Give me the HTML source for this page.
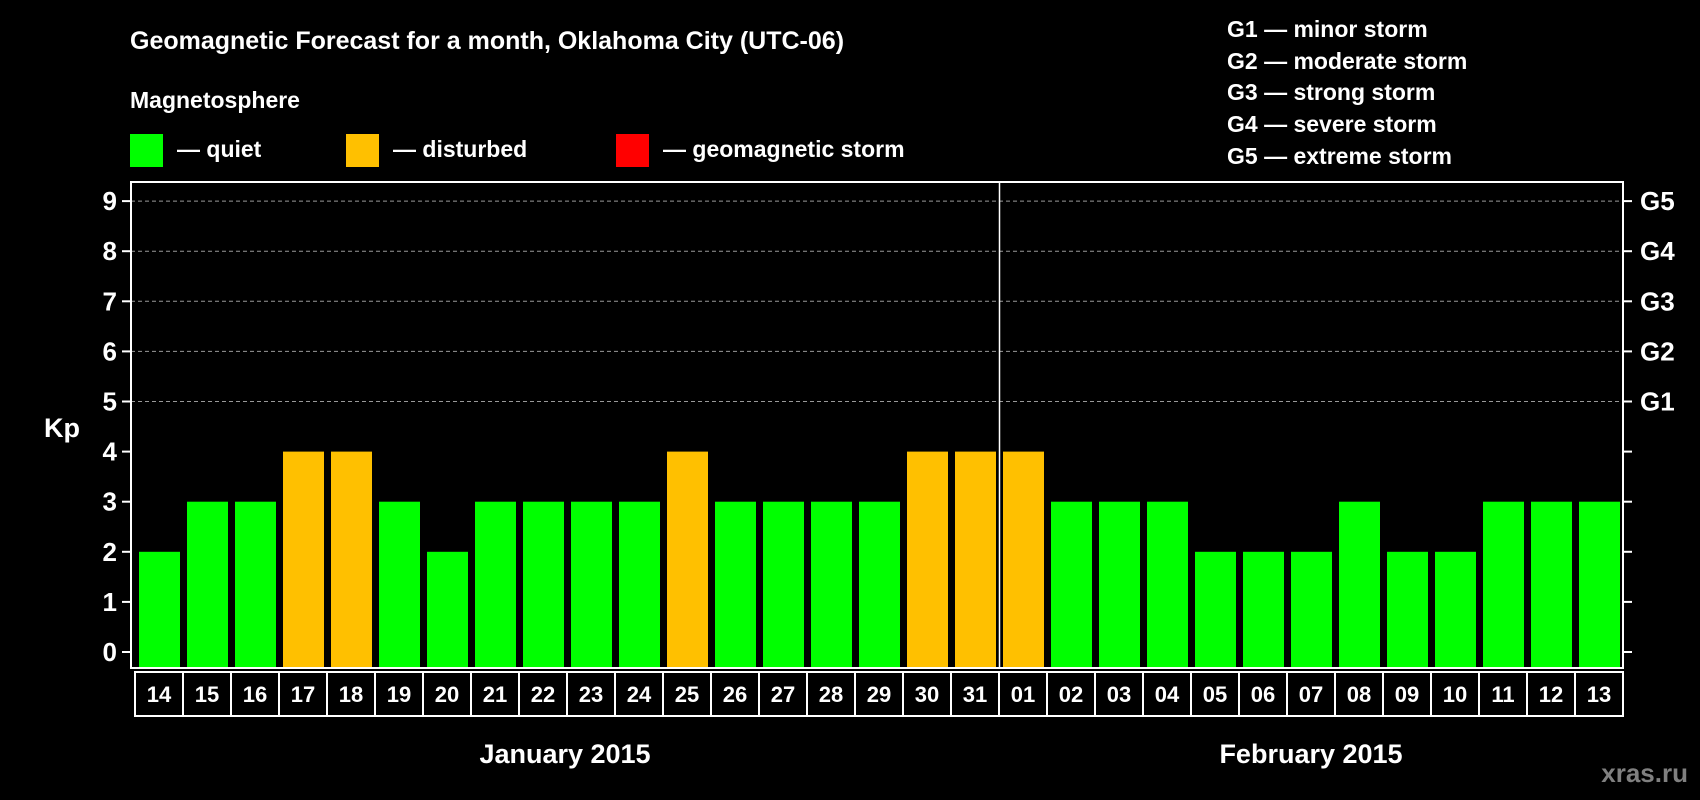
<!DOCTYPE html>
<html><head><meta charset="utf-8"><style>
html,body{margin:0;padding:0;background:#000;}
svg{display:block;font-family:"Liberation Sans",Arial,sans-serif;font-weight:bold;}
</style></head><body>
<svg id="chart" width="1700" height="800" viewBox="0 0 1700 800">
<rect width="1700" height="800" fill="#000"/>
<text x="130" y="49" fill="#fff" font-size="25">Geomagnetic Forecast for a month, Oklahoma City (UTC-06)</text>
<text x="130" y="108" fill="#fff" font-size="23">Magnetosphere</text>
<g><rect x="130" y="134" width="33" height="33" fill="#00ff00"/><text x="177" y="157" fill="#fff" font-size="23">— quiet</text></g>
<g><rect x="346" y="134" width="33" height="33" fill="#ffc000"/><text x="393" y="157" fill="#fff" font-size="23">— disturbed</text></g>
<g><rect x="616" y="134" width="33" height="33" fill="#ff0000"/><text x="663" y="157" fill="#fff" font-size="23">— geomagnetic storm</text></g>
<g fill="#fff" font-size="23">
<text x="1227" y="37">G1 — minor storm</text>
<text x="1227" y="69">G2 — moderate storm</text>
<text x="1227" y="100">G3 — strong storm</text>
<text x="1227" y="132">G4 — severe storm</text>
<text x="1227" y="164">G5 — extreme storm</text>
</g>
<text x="44" y="437" fill="#fff" font-size="27">Kp</text>
<text x="565" y="763" fill="#fff" font-size="27" text-anchor="middle">January 2015</text>
<text x="1311" y="763" fill="#fff" font-size="27" text-anchor="middle">February 2015</text>
<text x="1688" y="782" fill="#808080" font-size="26" text-anchor="end">xras.ru</text>
<g id="plot"></g>
</svg>
<script>
const days = ["14","15","16","17","18","19","20","21","22","23","24","25","26","27","28","29","30","31","01","02","03","04","05","06","07","08","09","10","11","12","13"];
const kpValues = [2,3,3,4,4,3,2,3,3,3,3,4,3,3,3,3,4,4,4,3,3,3,2,2,2,3,2,2,3,3,3];
const yTicks = [0,1,2,3,4,5,6,7,8,9];
const gLabels = ["G1","G2","G3","G4","G5"];
const gLevels = [5,6,7,8,9];
const monthBreakIndex = 18;

const NS = "http://www.w3.org/2000/svg";
const plot = document.getElementById('plot');
const L = 131, R = 1623, T = 182, B = 668;
const pitch = (R - 135) / days.length;
const barW = 41;
const x = i => 139 + i * pitch;
const y = v => 652 - v * 50.1;
const colorFor = v => v >= 5 ? "#ff0000" : (v >= 4 ? "#ffc000" : "#00ff00");
function mk(tag, attrs) { const e = document.createElementNS(NS, tag); for (const k in attrs) e.setAttribute(k, attrs[k]); plot.appendChild(e); return e; }

yTicks.forEach(t => {
  if (t >= 5) {
    const g = mk('line', {x1: L, x2: R, y1: y(t), y2: y(t), stroke: '#999', 'stroke-dasharray': '4,3', 'stroke-width': 1});
    
    
  }
  const tl = mk('line', {x1: L - 9, x2: L, y1: y(t), y2: y(t), stroke: '#fff', 'stroke-width': 2});
  
  
  const tr = mk('line', {x1: R, x2: R + 9, y1: y(t), y2: y(t), stroke: '#fff', 'stroke-width': 2});
  
  
  const lb = mk('text', {x: 117, y: y(t) + 9, fill: '#fff', 'font-size': 26, 'text-anchor': 'end'});
  lb.textContent = t;
  
  
});
gLabels.forEach((g, i) => {
  const t = mk('text', {x: 1640, y: y(gLevels[i]) + 9, fill: '#fff', 'font-size': 26});
  t.textContent = g;
  
  
});
kpValues.forEach((v, i) => {
  const b = mk('rect', {x: x(i), y: y(v), width: barW, height: B - y(v), fill: colorFor(v)});
  
  
});
const dx = (x(monthBreakIndex - 1) + barW + x(monthBreakIndex)) / 2;
const div = mk('line', {x1: dx, x2: dx, y1: T, y2: B, stroke: '#fff', 'stroke-width': 1.5});


const frame = mk('rect', {x: L, y: T, width: R - L, height: B - T, fill: 'none', stroke: '#fff', 'stroke-width': 2});


days.forEach((d, i) => {
  const cx = 135 + i * pitch;
  const c = mk('rect', {x: cx, y: 672, width: pitch, height: 44, fill: '#000', stroke: '#fff', 'stroke-width': 2});
  
  
  const t = mk('text', {x: cx + pitch / 2, y: 702, fill: '#fff', 'font-size': 22, 'text-anchor': 'middle'});
  t.textContent = d;
  
  
});
</script>
</body></html>
